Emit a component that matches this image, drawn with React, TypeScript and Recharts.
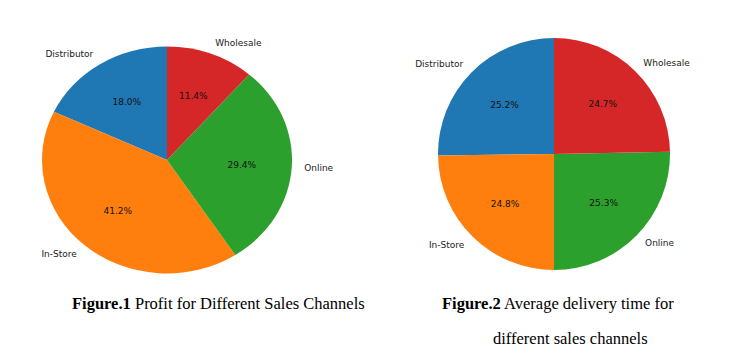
import React from "react";
import { PieChart, Pie, Cell } from "recharts";

const channels = ["Distributor", "In-Store", "Online", "Wholesale"];
const profitShare = [18.0, 41.2, 29.4, 11.4];
const deliveryShare = [25.2, 24.8, 25.3, 24.7];
const colors = ["#1f77b4", "#ff7f0e", "#2ca02c", "#d62728"];

const RADIAN = Math.PI / 180;

const renderLabel = (props: any) => {
  const { cx, cy, midAngle, outerRadius, percent, name } = props;
  const cos = Math.cos(-midAngle * RADIAN);
  const sin = Math.sin(-midAngle * RADIAN);
  const lx = cx + outerRadius * 1.1 * cos;
  const ly = cy + outerRadius * 1.1 * sin;
  const px = cx + outerRadius * 0.6 * cos;
  const py = cy + outerRadius * 0.6 * sin;
  return (
    <g>
      <text
        x={lx}
        y={ly}
        textAnchor={lx > cx ? "start" : "end"}
        dominantBaseline="central"
        fontSize={9}
        fontFamily="DejaVu Sans"
        fill="#222"
      >
        {name}
      </text>
      <text
        x={px}
        y={py}
        textAnchor="middle"
        dominantBaseline="central"
        fontSize={9}
        fontFamily="DejaVu Sans"
        fill="#111"
      >
        {(percent * 100).toFixed(1)}%
      </text>
    </g>
  );
};

const SalesPie = ({ values, cx, cy, r }: { values: number[]; cx: number; cy: number; r: number }) => {
  const data = channels.map((name, i) => ({ name, value: values[i] }));
  return (
    <PieChart width={370} height={300} margin={{ top: 0, right: 0, bottom: 0, left: 0 }}>
      <Pie
        data={data}
        dataKey="value"
        nameKey="name"
        cx={cx}
        cy={cy}
        outerRadius={r}
        startAngle={90}
        endAngle={450}
        stroke="none"
        label={renderLabel}
        labelLine={false}
        isAnimationActive={false}
      >
        {data.map((d, i) => (
          <Cell key={d.name} fill={colors[i]} />
        ))}
      </Pie>
    </PieChart>
  );
};

const captionStyle: React.CSSProperties = {
  position: "absolute",
  fontFamily: "'Times New Roman', 'Liberation Serif', serif",
  fontSize: 16.5,
  lineHeight: "normal",
  whiteSpace: "nowrap",
  color: "#000",
};

export default function App() {
  return (
    <div
      style={{
        position: "absolute",
        left: 0,
        top: 0,
        width: 741,
        height: 356,
        background: "#fff",
        overflow: "hidden",
      }}
    >
      <div
        style={{
          position: "absolute",
          left: 0,
          top: 0,
          transform: "scaleY(0.9075)",
          transformOrigin: "0 160px",
        }}
      >
        <SalesPie values={profitShare} cx={167} cy={160} r={125} />
      </div>
      <div style={{ position: "absolute", left: 370, top: 0 }}>
        <SalesPie values={deliveryShare} cx={184} cy={154} r={116} />
      </div>
      <div style={{ ...captionStyle, left: 72, top: 294 }}>
        <b>Figure.1</b> Profit for Different Sales Channels
      </div>
      <div style={{ ...captionStyle, left: 442, top: 294 }}>
        <b>Figure.2</b> Average delivery time for
      </div>
      <div style={{ ...captionStyle, left: 493, top: 329 }}>
        different sales channels
      </div>
    </div>
  );
}
